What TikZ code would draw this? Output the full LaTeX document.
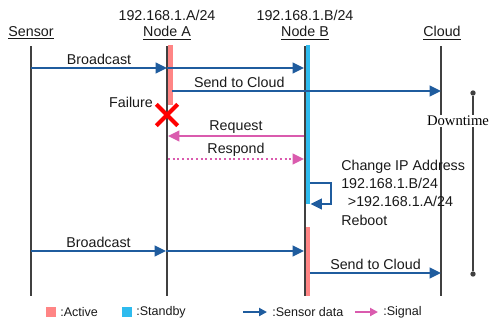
\documentclass[tikz,border=0pt]{standalone}
\usepackage{fontspec}
\setmainfont{Liberation Sans}
\newfontfamily\downfont{Liberation Serif}
\usetikzlibrary{arrows.meta,shapes.misc}

\definecolor{lifegray}{HTML}{404040}
\definecolor{datablue}{HTML}{1F5C9E}
\definecolor{sigpink}{HTML}{DA5BAE}
\definecolor{activered}{HTML}{FF8585}
\definecolor{standbyblue}{HTML}{2EBBEE}

\tikzset{
	lifeline/.style={draw=lifegray, line width=1.5pt},
	data/.style={draw=datablue, line width=1.5pt, -{Triangle[length=8.5pt,width=8pt]}},
	signal/.style={draw=sigpink, line width=1.5pt, -{Triangle[length=8.5pt,width=8pt]}},
	lbl/.style={font=\fontsize{10.7}{12}\selectfont, inner sep=1.5pt, text=black!90},
	legend/.style={font=\fontsize{9.4}{11}\selectfont, inner sep=0pt, anchor=west, text=black!90},
	dot/.style={circle, fill=lifegray, inner sep=0pt, minimum size=4pt},
}

\begin{document}
\begin{tikzpicture}[x=0.75pt,y=-0.75pt]
					\useasboundingbox (0,0) rectangle (491,322);
					% heads
					\node[lbl] (sensor) at (31,33) {\underline{Sensor}};
					\node[lbl] (nodeA) at (167,33) {\underline{Node A}};
					\node[lbl] (nodeB) at (305,33) {\underline{Node B}};
					\node[lbl] (cloud) at (442,33) {\underline{Cloud}};
					\node[lbl] (ipA) at (167,15) {192.168.1.A/24};
					\node[lbl] (ipB) at (305,15) {192.168.1.B/24};
					% lifelines
					\coordinate (S) at (31,46);   \coordinate (Sx) at (31,296);
					\coordinate (A) at (167,46);  \coordinate (Ax) at (167,296);
					\coordinate (B) at (304.5,46); \coordinate (Bx) at (304.5,296);
					\coordinate (C) at (441,46);  \coordinate (Cx) at (441,296);
					\draw[lifeline] (S) -- (Sx);
					\draw[lifeline] (A) -- (Ax);
					\draw[lifeline] (B) -- (Bx);
					\draw[lifeline] (C) -- (Cx);
					% states
					\fill[activered] (168,45) rectangle (172.5,105);
					\fill[standbyblue] (305.5,45) rectangle (310,204);
					\fill[activered] (305.5,227) rectangle (310,296);
					% messages
					\coordinate (s1) at (31,68);  \coordinate (a1) at (167,68);  \coordinate (b1) at (304,68);
					\coordinate (a2) at (172,91); \coordinate (c2) at (441,91);
					\coordinate (a3) at (168,136); \coordinate (b3) at (304,136);
					\coordinate (a4) at (168,159); \coordinate (b4) at (304,159);
					\coordinate (b5) at (310,183); \coordinate (b6) at (310.5,204);
					\coordinate (s7) at (31,251); \coordinate (a7) at (166,251); \coordinate (b7) at (304,251);
					\coordinate (b8) at (310,273); \coordinate (c8) at (441,273);
					\draw[data] (s1) -- node[lbl, above] {Broadcast} (a1);
					\draw[data] (a1) -- (b1);
					\draw[data] (a2) -- node[lbl, above, pos=0.25] {Send to Cloud} (c2);
					\node[lbl] (failtxt) at (131,102) {Failure};
					\node[cross out, draw=red, line width=3pt, minimum size=13pt, inner sep=0pt] (fail) at (167,115) {};
					\draw[signal] (b3) -- node[lbl, above] {Request} (a3);
					\draw[signal, dotted] (a4) -- node[lbl, above] {Respond} (b4);
					\draw[data] (b5) -- ++(21,0) |- (b6);
					\node[lbl, align=left, anchor=west, font=\fontsize{10.7}{13.7}\selectfont] (change) at (339,192.5)
						{Change IP Address\\192.168.1.B/24\\\hspace*{5pt}>192.168.1.A/24\\Reboot};
					\draw[data] (s7) -- node[lbl, above] {Broadcast} (a7);
					\draw[data] (a7) -- (b7);
					\draw[data] (b8) -- node[lbl, above] {Send to Cloud} (c8);
					% downtime
					\node[dot] (dtop) at (473,93) {};
					\node[dot] (dbot) at (473,274) {};
					\draw[lifegray, line width=1.2pt] (dtop) -- (dbot);
					\node[fill=white, inner sep=1pt, font=\downfont\fontsize{11}{12}\selectfont] (down) at (458,121) {Downtime};
					% legend
					\node[fill=activered, minimum size=7.5pt, inner sep=0pt] (kact) at (51,312) {};
					\node[legend] (tact) at (60,312) {:Active};
					\node[fill=standbyblue, minimum size=7.5pt, inner sep=0pt] (ksb) at (127,312) {};
					\node[legend] (tsb) at (136,312) {:Standby};
					\coordinate (kd1) at (243,312); \coordinate (kd2) at (267,312);
					\draw[datablue, line width=1.5pt, -{Triangle[length=6pt,width=6pt]}] (kd1) -- (kd2);
					\node[legend] (td) at (272,312) {:Sensor data};
					\coordinate (ks1) at (355,312); \coordinate (ks2) at (378,312);
					\draw[sigpink, line width=1.5pt, -{Triangle[length=6pt,width=6pt]}] (ks1) -- (ks2);
					\node[legend] (ts) at (383,312) {:Signal};
				  \end{tikzpicture}
\end{document}
